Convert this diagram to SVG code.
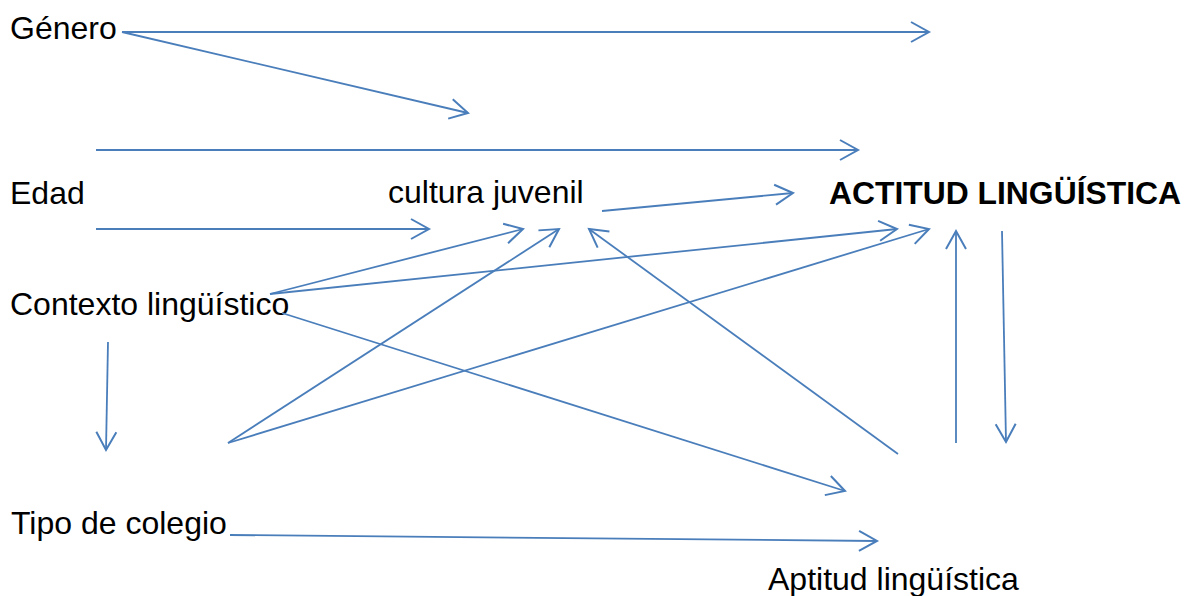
<svg xmlns="http://www.w3.org/2000/svg" width="1186" height="596" viewBox="0 0 1186 596">
<style>
  .lbl { font-family: "Liberation Sans", Arial, sans-serif; font-size: 32px; fill: #000; }
  .bold { font-weight: bold; }
  .c line { stroke: #4a7ebb; stroke-width: 1.8; fill: none; marker-end: url(#ah); }
</style>
<defs>
  <marker id="ah" markerUnits="userSpaceOnUse" markerWidth="30" markerHeight="30" refX="0" refY="0" orient="auto" viewBox="-20 -15 30 30" overflow="visible">
    <path d="M-18,-10 L0,0 L-18,10" fill="none" stroke="#4a7ebb" stroke-width="2"/>
  </marker>
</defs>
<rect width="1186" height="596" fill="#fff"/>
<g id="n-genero"><text class="lbl" x="10" y="38.5">Género</text></g>
<g id="n-edad"><text class="lbl" x="10" y="204">Edad</text></g>
<g id="n-cultura"><text class="lbl" x="388" y="203">cultura juvenil</text></g>
<g id="n-actitud"><text class="lbl bold" x="829" y="204" textLength="352" lengthAdjust="spacingAndGlyphs">ACTITUD LINGÜÍSTICA</text></g>
<g id="n-contexto"><text class="lbl" x="10" y="315">Contexto lingüístico</text></g>
<g id="n-tipo"><text class="lbl" x="11" y="534">Tipo de colegio</text></g>
<g id="n-aptitud"><text class="lbl" x="768" y="590">Aptitud lingüística</text></g>
<g id="connectors" class="c">
  <line x1="122" y1="32" x2="929" y2="32"/>
  <line x1="122" y1="32" x2="468" y2="113"/>
  <line x1="96" y1="150" x2="858" y2="150"/>
  <line x1="96" y1="229" x2="429" y2="229"/>
  <line x1="602" y1="211" x2="793" y2="193"/>
  <line x1="270" y1="294" x2="523" y2="229"/>
  <line x1="270" y1="294" x2="897" y2="229"/>
  <line x1="282" y1="313" x2="845" y2="491"/>
  <line x1="108" y1="342" x2="106" y2="450"/>
  <line x1="228" y1="443" x2="559" y2="229"/>
  <line x1="228" y1="443" x2="929" y2="229"/>
  <line x1="898" y1="454" x2="589" y2="229"/>
  <line x1="956" y1="443" x2="956" y2="231"/>
  <line x1="1002" y1="231" x2="1006" y2="442"/>
  <line x1="230" y1="535" x2="877" y2="541"/>
</g>
</svg>
